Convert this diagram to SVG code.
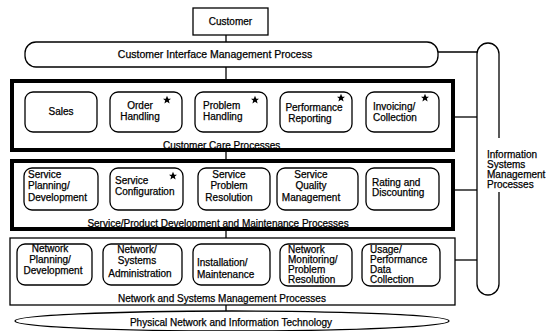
<svg xmlns="http://www.w3.org/2000/svg" xmlns:xlink="http://www.w3.org/1999/xlink" width="558" height="331" viewBox="0 0 558 331">
  <style>
    text { font-family: "Liberation Sans", Arial, sans-serif; font-size: 10px; fill: #000; stroke: #000; stroke-width: 0.25; }
    .c { text-anchor: middle; }
    .box { fill: #fff; stroke: #000; stroke-width: 1.3; }
    .thick { fill: none; stroke: #000; stroke-width: 4; }
    .thin { fill: none; stroke: #000; stroke-width: 1.3; }
    .link { fill: none; stroke: #000; stroke-width: 1.3; }
  </style>
  <defs>
    <!-- small black star marking a process -->
    <path id="star" d="M0,-4.2 L1.25,-1.3 L4,-1.3 L1.8,0.6 L2.6,3.5 L0,1.8 L-2.6,3.5 L-1.8,0.6 L-4,-1.3 L-1.25,-1.3 Z" fill="#000"/>
  </defs>
  <rect width="558" height="331" fill="#fff"/>

  <!-- connectors -->
  <g id="connectors">
    <line class="link" x1="226" y1="35" x2="226" y2="42"/>
    <line class="link" x1="226" y1="67" x2="226" y2="80"/>
    <line class="link" x1="226" y1="152" x2="226" y2="160"/>
    <line class="link" x1="226" y1="231" x2="226" y2="238"/>
    <line class="link" x1="226" y1="305" x2="226" y2="311"/>
    <line class="link" x1="438" y1="52" x2="477" y2="52"/>
    <line class="link" x1="455" y1="117" x2="477" y2="117"/>
    <line class="link" x1="455" y1="190" x2="477" y2="190"/>
    <line class="link" x1="455" y1="260" x2="477" y2="260"/>
  </g>

  <!-- top customer -->
  <g id="customer">
    <rect class="box" x="193" y="8" width="75" height="27"/>
    <text class="c" x="230.5" y="25">Customer</text>
  </g>

  <g id="cim">
    <rect class="box" x="25" y="42" width="413" height="25" rx="11"/>
    <text class="c" x="215" y="58" style="font-size:10.5px">Customer Interface Management Process</text>
  </g>

  <!-- customer care layer -->
  <g id="customer-care">
    <rect class="thick" x="12" y="81" width="441" height="69"/>
    <text x="163" y="148.5">Customer Care Processes</text>
  </g>
  <g id="sales">
    <rect class="box" x="25" y="92" width="72" height="40" rx="8"/>
    <text class="c" x="61" y="115">Sales</text>
  </g>
  <g id="order-handling">
    <rect class="box" x="110" y="92" width="72" height="40" rx="8"/>
    <text class="c" x="140" y="109">Order</text>
    <text class="c" x="140" y="120">Handling</text>
    <use xlink:href="#star" x="167" y="100"/>
  </g>
  <g id="problem-handling">
    <rect class="box" x="195" y="92" width="72" height="40" rx="8"/>
    <text x="203" y="109">Problem</text>
    <text x="203" y="120">Handling</text>
    <use xlink:href="#star" x="255" y="100"/>
  </g>
  <g id="performance-reporting">
    <rect class="box" x="280" y="92" width="72" height="40" rx="8"/>
    <text class="c" x="314" y="111">Performance</text>
    <text class="c" x="310" y="122">Reporting</text>
    <use xlink:href="#star" x="341" y="98"/>
  </g>
  <g id="invoicing">
    <rect class="box" x="366" y="92" width="73" height="40" rx="8"/>
    <text x="373" y="110">Invoicing/</text>
    <text x="373" y="121">Collection</text>
    <use xlink:href="#star" x="425" y="98"/>
  </g>

  <!-- service / product layer -->
  <g id="service-product">
    <rect class="thick" x="12" y="161" width="441" height="68"/>
    <text class="c" x="218" y="226.5">Service/Product Development and Maintenance Processes</text>
  </g>
  <g id="service-planning">
    <rect class="box" x="24" y="168" width="74" height="42" rx="8"/>
    <text x="28" y="178">Service</text>
    <text x="28" y="189">Planning/</text>
    <text x="28" y="201">Development</text>
  </g>
  <g id="service-configuration">
    <rect class="box" x="110" y="168" width="73" height="42" rx="8"/>
    <text x="115" y="184">Service</text>
    <text x="115" y="195">Configuration</text>
    <use xlink:href="#star" x="173" y="176"/>
  </g>
  <g id="service-problem">
    <rect class="box" x="198" y="168" width="72" height="42" rx="8"/>
    <text class="c" x="229" y="178">Service</text>
    <text class="c" x="229" y="189">Problem</text>
    <text class="c" x="229" y="201">Resolution</text>
  </g>
  <g id="service-quality">
    <rect class="box" x="277" y="168" width="81" height="42" rx="8"/>
    <text class="c" x="311" y="178">Service</text>
    <text class="c" x="311" y="189">Quality</text>
    <text class="c" x="311" y="201">Management</text>
  </g>
  <g id="rating">
    <rect class="box" x="366" y="168" width="73" height="42" rx="8"/>
    <text x="372" y="186">Rating and</text>
    <text x="372" y="196">Discounting</text>
  </g>

  <!-- network and systems layer -->
  <g id="network-systems">
    <rect class="thin" x="10" y="238" width="445" height="67"/>
    <text class="c" x="222" y="301.5">Network and Systems Management Processes</text>
  </g>
  <g id="network-planning">
    <rect class="box" x="17" y="244" width="75" height="41" rx="8"/>
    <text class="c" x="50" y="252">Network</text>
    <text class="c" x="50" y="263">Planning/</text>
    <text class="c" x="53" y="274">Development</text>
  </g>
  <g id="network-admin">
    <rect class="box" x="103" y="244" width="79" height="41" rx="8"/>
    <text class="c" x="137" y="253">Network/</text>
    <text class="c" x="137" y="264">Systems</text>
    <text class="c" x="140" y="277">Administration</text>
  </g>
  <g id="installation">
    <rect class="box" x="193" y="244" width="77" height="41" rx="8"/>
    <text x="197" y="266">Installation/</text>
    <text x="197" y="278">Maintenance</text>
  </g>
  <g id="network-monitoring">
    <rect class="box" x="280" y="244" width="72" height="42" rx="8"/>
    <text x="288" y="253">Network</text>
    <text x="288" y="263">Monitoring/</text>
    <text x="288" y="273">Problem</text>
    <text x="288" y="283">Resolution</text>
  </g>
  <g id="usage-collection">
    <rect class="box" x="362" y="244" width="78" height="42" rx="8"/>
    <text x="370" y="253">Usage/</text>
    <text x="370" y="263">Performance</text>
    <text x="370" y="273">Data</text>
    <text x="370" y="283">Collection</text>
  </g>

  <!-- side bar with its label set into the gap of the right edge -->
  <g id="information-systems">
    <path class="link" d="M499,138 V54 A11,11 0 0 0 477,54 V284 A11,11 0 0 0 499,284 V192"/>
    <text x="487" y="158">Information</text>
    <text x="487" y="168">Systems</text>
    <text x="487" y="178">Management</text>
    <text x="487" y="188">Processes</text>
  </g>

  <!-- physical network base -->
  <g id="physical-network">
    <ellipse class="box" cx="232" cy="321" rx="217" ry="10"/>
    <text class="c" x="231" y="326">Physical Network and Information Technology</text>
  </g>
</svg>
